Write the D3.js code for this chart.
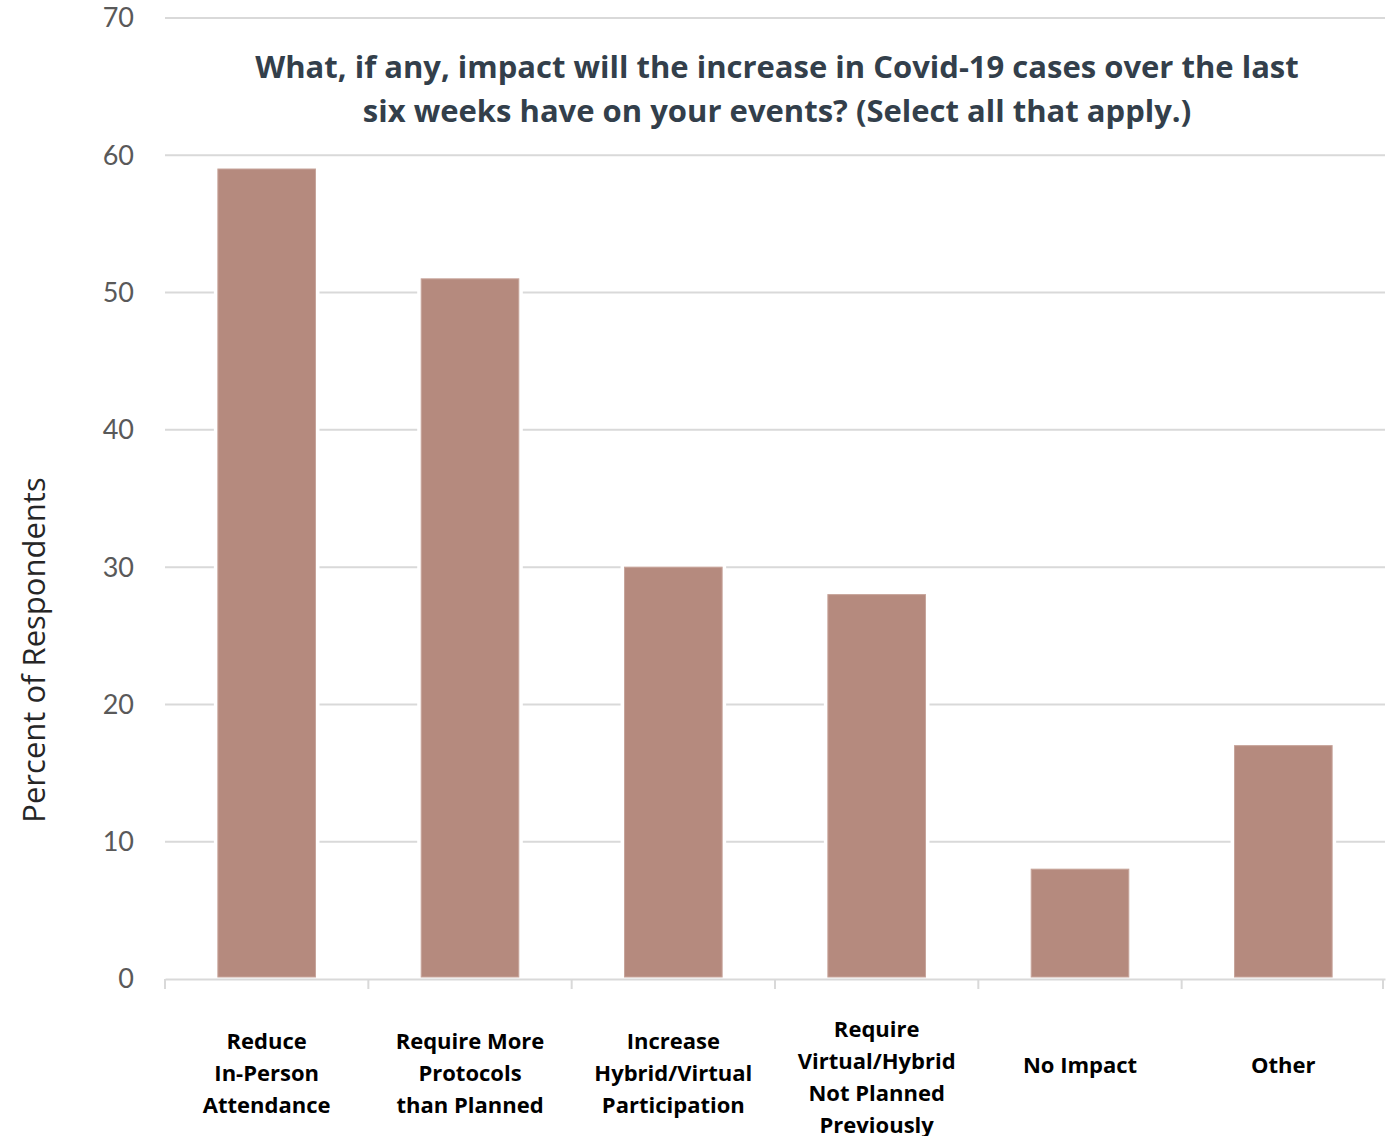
<!DOCTYPE html>
<html>
<head>
<meta charset="utf-8">
<script src="https://cdn.jsdelivr.net/npm/d3@7"></script>
<style>
  html, body { margin: 0; padding: 0; background: #ffffff; }
  svg { display: block; }
</style>
</head>
<body>
<svg id="chart" width="1388" height="1136"></svg>
<script>
// Survey responses: share of respondents choosing each impact
const categories = [
  ["Reduce", "In-Person", "Attendance"],
  ["Require More", "Protocols", "than Planned"],
  ["Increase", "Hybrid/Virtual", "Participation"],
  ["Require", "Virtual/Hybrid", "Not Planned", "Previously"],
  ["No Impact"],
  ["Other"]
];
const values = [59, 51, 30, 28, 8, 17];
const yTicks = [0, 10, 20, 30, 40, 50, 60, 70];
const titleLines = [
  "What, if any, impact will the increase in Covid-19 cases over the last",
  "six weeks have on your events? (Select all that apply.)"
];
const yLabel = "Percent of Respondents";

const svg = d3.select("#chart");
const margin = { left: 165, right: 3, top: 18, bottom: 157 };
const width = 1388, height = 1136;

const x = d3.scaleBand()
  .domain(d3.range(categories.length))
  .range([margin.left, width - margin.right])
  .paddingInner(0.52)
  .paddingOuter(0.26);

const y = d3.scaleLinear()
  .domain([0, 70])
  .range([height - margin.bottom, margin.top]);

const font = "'Open Sans', 'Noto Sans', sans-serif";
const tickFont = "Lato, 'Open Sans', sans-serif";

// horizontal gridlines
svg.append("g")
  .selectAll("line")
  .data(yTicks.filter(d => d > 0))
  .join("line")
  .attr("x1", margin.left)
  .attr("x2", width - margin.right)
  .attr("y1", d => y(d))
  .attr("y2", d => y(d))
  .attr("stroke", "#d9d9d9")
  .attr("stroke-width", 2);

// y tick labels
svg.append("g")
  .selectAll("text")
  .data(yTicks)
  .join("text")
  .attr("x", 134)
  .attr("y", d => y(d))
  .attr("dy", "0.35em")
  .attr("text-anchor", "end")
  .attr("font-family", tickFont)
  .attr("font-size", 27)
  .attr("fill", "#595959")
  .text(d => d);

// bars, with a white halo that breaks the gridlines
const bars = svg.append("g");
bars.selectAll("rect.halo")
  .data(values)
  .join("rect")
  .attr("class", "halo")
  .attr("x", (d, i) => x(i) - 4)
  .attr("width", x.bandwidth() + 8)
  .attr("y", d => y(d) - 4)
  .attr("height", d => y(0) - y(d) + 2)
  .attr("fill", "#ffffff");
bars.selectAll("rect.bar")
  .data(values)
  .join("rect")
  .attr("class", "bar")
  .attr("x", (d, i) => x(i))
  .attr("width", x.bandwidth())
  .attr("y", d => y(d))
  .attr("height", d => y(0) - y(d) - 2)
  .attr("fill", "#b58a7e")
  .attr("stroke", "#c7a49a")
  .attr("stroke-width", 1);

// x axis line and category separators
const xAxis = d3.axisBottom(x).tickSize(0).tickFormat("");
svg.append("g")
  .attr("transform", `translate(0,${y(0)})`)
  .call(xAxis)
  .call(g => g.select(".domain").attr("stroke", "#d9d9d9").attr("stroke-width", 2))
  .call(g => g.selectAll(".tick").remove());

const step = x.step();
const seps = d3.range(categories.length + 1).map(i => margin.left + i * step - (i === categories.length ? 2 : 0));
svg.append("g")
  .selectAll("line")
  .data(seps)
  .join("line")
  .attr("x1", d => d).attr("x2", d => d)
  .attr("y1", y(0)).attr("y2", y(0) + 10)
  .attr("stroke", "#d9d9d9")
  .attr("stroke-width", 2);

// category labels
const lineH = 32;
const labels = svg.append("g")
  .selectAll("text")
  .data(categories)
  .join("text")
  .attr("text-anchor", "middle")
  .attr("font-family", font)
  .attr("font-weight", "bold")
  .attr("font-size", 22)
  .attr("fill", "#000000");
labels.each(function (lines, i) {
  const cx = x(i) + x.bandwidth() / 2;
  const mid = 1065 + (lines.length - 1) * 4;
  const top = mid - (lines.length - 1) * lineH / 2;
  d3.select(this).selectAll("tspan")
    .data(lines)
    .join("tspan")
    .attr("x", cx)
    .attr("y", (d, j) => top + j * lineH)
    .attr("dy", "0.35em")
    .text(d => d);
});

// title
svg.append("text")
  .attr("text-anchor", "middle")
  .attr("font-family", font)
  .attr("font-weight", "bold")
  .attr("font-size", 31)
  .attr("fill", "#333f4b")
  .selectAll("tspan")
  .data(titleLines)
  .join("tspan")
  .attr("x", 777)
  .attr("y", (d, i) => 78 + i * 44)
  .text(d => d);

// y axis title
svg.append("text")
  .attr("transform", `translate(45,${650}) rotate(-90)`)
  .attr("text-anchor", "middle")
  .attr("font-family", font)
  .attr("font-size", 31)
  .attr("fill", "#262626")
  .text(yLabel);
</script>
</body>
</html>
